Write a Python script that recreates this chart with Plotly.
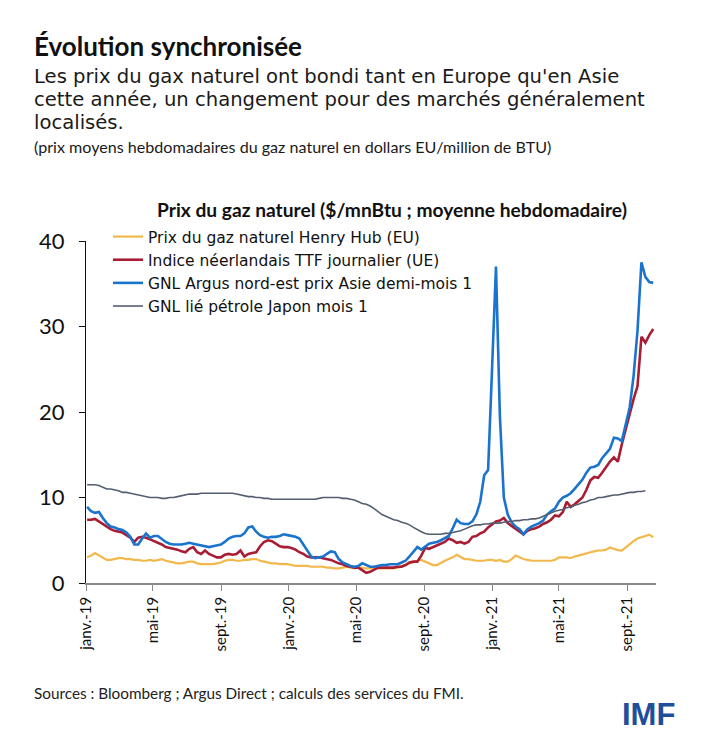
import pandas as pd
import plotly.graph_objects as go

# ---------------- data (weekly averages, $/mnBtu) ----------------
start_date = "2019-01-03"
end_date = "2021-10-18"
n_weeks = 145

tick_dates = ["2019-01-01", "2019-05-01", "2019-09-01", "2020-01-01", "2020-05-01",
              "2020-09-01", "2021-01-01", "2021-05-01", "2021-09-01"]
tick_labels = ["janv.-19", "mai-19", "sept.-19", "janv.-20", "mai-20",
               "sept.-20", "janv.-21", "mai-21", "sept.-21"]

series_names = ["Prix du gaz naturel Henry Hub (EU)",
                "Indice néerlandais TTF journalier (UE)",
                "GNL Argus nord-est prix Asie demi-mois 1",
                "GNL lié pétrole Japon mois 1"]

henry_hub = [3.0, 3.2, 3.5, 3.2, 2.9, 2.7, 2.7, 2.8, 2.9, 2.9, 2.8, 2.8,
             2.7, 2.7, 2.6, 2.6, 2.7, 2.6, 2.7, 2.8, 2.6, 2.5, 2.4, 2.3,
             2.3, 2.4, 2.5, 2.5, 2.3, 2.2, 2.2, 2.2, 2.2, 2.3, 2.4, 2.6,
             2.7, 2.7, 2.6, 2.6, 2.7, 2.7, 2.8, 2.8, 2.6, 2.5, 2.4, 2.3,
             2.3, 2.2, 2.2, 2.2, 2.1, 2.0, 2.0, 2.0, 2.0, 1.9, 1.9, 1.9,
             1.9, 1.8, 1.8, 1.7, 1.7, 1.8, 1.9, 1.8, 1.7, 1.8, 1.8, 1.7,
             1.7, 1.7, 1.7, 1.7, 1.7, 1.7, 1.7, 1.8, 2.0, 2.1, 2.3, 2.4,
             2.6, 2.7, 2.5, 2.3, 2.1, 2.1, 2.4, 2.6, 2.8, 3.0, 3.3, 3.0,
             2.8, 2.8, 2.7, 2.6, 2.6, 2.6, 2.7, 2.7, 2.6, 2.7, 2.5, 2.5,
             2.8, 3.2, 3.0, 2.8, 2.7, 2.6, 2.6, 2.6, 2.6, 2.6, 2.6, 2.7,
             3.0, 3.0, 3.0, 2.9, 3.1, 3.2, 3.35, 3.5, 3.6, 3.7, 3.8, 3.8,
             3.9, 4.15, 4.0, 3.85, 3.8, 4.2, 4.6, 4.9, 5.2, 5.35, 5.5, 5.65, 5.35]

ttf = [7.4, 7.4, 7.5, 7.2, 6.8, 6.5, 6.3, 6.1, 6.0, 5.9, 5.6, 5.3,
       4.8, 5.3, 5.4, 5.3, 5.1, 4.9, 4.7, 4.5, 4.2, 4.1, 4.0, 3.9,
       3.7, 3.6, 4.0, 4.2, 3.6, 3.4, 3.8, 3.4, 3.2, 3.0, 3.0, 3.3,
       3.4, 3.3, 3.4, 3.8, 3.1, 3.4, 3.5, 3.6, 4.3, 4.8, 5.0, 4.9,
       4.6, 4.3, 4.2, 4.2, 4.1, 3.9, 3.6, 3.4, 3.1, 3.0, 3.0, 3.0,
       2.9, 2.8, 2.7, 2.5, 2.3, 2.2, 2.0, 1.9, 1.8, 1.8, 1.5, 1.2,
       1.3, 1.6, 1.8, 1.8, 1.8, 1.8, 1.8, 1.9, 1.9, 2.1, 2.4, 2.5,
       2.5, 3.2, 4.1, 4.0, 4.2, 4.4, 4.6, 4.8, 5.2, 5.0, 4.7, 4.8,
       4.6, 4.8, 5.4, 5.5, 5.8, 6.0, 6.5, 6.9, 7.2, 7.3, 7.6, 7.0,
       6.7, 6.4, 6.1, 5.7, 6.1, 6.3, 6.4, 6.6, 6.9, 7.1, 7.4, 7.9,
       7.8, 8.3, 9.5, 8.9, 9.2, 9.6, 10.0, 10.9, 12.0, 12.4, 12.3, 12.9,
       13.6, 14.2, 14.7, 14.2, 16.2, 18.0, 19.8, 21.5, 23.0, 28.8, 28.1, 29.0, 29.7]

argus_asia = [8.9, 8.4, 8.2, 8.3, 7.6, 7.0, 6.6, 6.5, 6.3, 6.2, 5.9, 5.4,
              4.5, 4.5, 5.2, 5.8, 5.3, 5.5, 5.5, 5.1, 4.8, 4.6, 4.5, 4.5,
              4.5, 4.6, 4.7, 4.6, 4.5, 4.4, 4.3, 4.2, 4.3, 4.4, 4.5, 4.8,
              5.2, 5.4, 5.5, 5.5, 5.8, 6.5, 6.6, 6.0, 5.6, 5.4, 5.3, 5.4,
              5.4, 5.5, 5.7, 5.6, 5.5, 5.4, 5.2, 4.5, 3.9, 3.1, 2.9, 3.0,
              3.1, 3.4, 3.7, 3.6, 2.8, 2.4, 2.2, 2.0, 1.9, 2.0, 2.3, 2.1,
              1.9, 1.9, 2.0, 2.1, 2.1, 2.2, 2.2, 2.2, 2.4, 2.6, 3.1, 3.7,
              4.2, 3.9, 4.3, 4.6, 4.7, 4.8, 5.0, 5.3, 5.5, 6.4, 7.4, 7.0,
              6.9, 6.9, 7.2, 8.0, 9.5, 12.6, 13.2, 25.0, 37.0, 19.5, 10.0, 8.0,
              7.1, 6.6, 6.3, 5.7, 6.3, 6.6, 6.8, 7.0, 7.3, 8.0, 8.4, 8.7,
              9.5, 10.0, 10.2, 10.5, 11.0, 11.5, 12.1, 12.9, 13.5, 13.6, 13.8, 14.6,
              15.2, 15.7, 17.0, 16.9, 16.6, 18.7, 20.5, 24.2, 29.5, 37.5, 35.8, 35.2, 35.1]

japan_oil = [11.5, 11.5, 11.5, 11.4, 11.2, 11.0, 11.0, 10.9, 10.8, 10.6, 10.6, 10.5,
             10.4, 10.3, 10.2, 10.1, 10.0, 10.0, 10.0, 9.9, 9.9, 10.0, 10.0, 10.1,
             10.2, 10.3, 10.4, 10.4, 10.4, 10.5, 10.5, 10.5, 10.5, 10.5, 10.5, 10.5,
             10.5, 10.5, 10.4, 10.3, 10.2, 10.1, 10.1, 10.0, 10.0, 9.9, 9.9, 9.8,
             9.8, 9.8, 9.8, 9.8, 9.8, 9.8, 9.8, 9.8, 9.8, 9.8, 9.8, 9.9,
             10.0, 10.0, 10.0, 10.0, 10.0, 9.9, 9.9, 9.8, 9.7, 9.5, 9.3, 9.2,
             9.0, 8.7, 8.3, 8.0, 7.8, 7.6, 7.4, 7.3, 7.1, 7.0, 6.8, 6.5,
             6.2, 6.0, 5.8, 5.7, 5.7, 5.7, 5.7, 5.8, 5.8, 5.9, 6.0, 6.1,
             6.3, 6.5, 6.7, 6.8, 6.8, 6.9, 6.9, 7.0, 7.0, 7.0, 7.1, 7.2,
             7.2, 7.3, 7.3, 7.4, 7.4, 7.5, 7.5, 7.6, 7.8, 8.0, 8.2, 8.4,
             8.5, 8.6, 8.8, 8.9, 9.1, 9.2, 9.4, 9.5, 9.7, 9.8, 10.0, 10.0,
             10.1, 10.2, 10.3, 10.3, 10.4, 10.5, 10.6, 10.6, 10.7, 10.7, 10.8]

# ---------------- figure ----------------
dates = pd.date_range(start_date, end_date, periods=n_weeks)

colors = ["#F2B84B", "#A81D33", "#1A74CD", "#535E70"]
widths = [2.2, 2.6, 2.6, 1.6]
all_series = [henry_hub, ttf, argus_asia, japan_oil]

# page body has an 8px default margin -> figure sits at (8, 8) in the window
OFF = 8
W, H = 700, 730
L, R, T, B = 78, 52, 233, 155
PW, PH = W - L - R, H - T - B


def xp(px):  # window pixel -> paper x
    return (px - OFF - L) / PW


def yp(py):  # window pixel -> paper y
    return (H - B - (py - OFF)) / PH


fig = go.Figure()
for name, vals, col, w in zip(series_names, all_series, colors, widths):
    fig.add_trace(go.Scatter(
        x=dates[:len(vals)], y=vals, mode="lines", name=name,
        line=dict(color=col, width=w), hoverinfo="skip"))

fig.update_layout(
    width=W, height=H,
    margin=dict(l=L, r=R, t=T, b=B, pad=0),
    paper_bgcolor="white", plot_bgcolor="white",
    font=dict(family="Lato, sans-serif", color="#111111"),
    showlegend=True,
    legend=dict(x=xp(108), y=yp(220), xanchor="left", yanchor="top",
                bgcolor="rgba(0,0,0,0)",
                font=dict(size=15.5, color="#111111", family="DejaVu Sans, sans-serif"),
                itemwidth=30, tracegroupgap=0),
    xaxis=dict(type="date", range=["2019-01-01", "2021-10-23"],
               tickmode="array", tickvals=tick_dates, ticktext=tick_labels,
               tickangle=-90, ticks="outside", ticklen=6, tickcolor="#8a8a8a",
               tickwidth=1.3, showline=True, linecolor="#8a8a8a", linewidth=1.5,
               showgrid=False, zeroline=False,
               tickfont=dict(size=15, color="#111111")),
    yaxis=dict(range=[0, 40], tickmode="array", tickvals=[0, 10, 20, 30, 40],
               ticks="outside", ticklen=6, tickcolor="#111111", tickwidth=1,
               showline=True, linecolor="#111111", linewidth=1,
               showgrid=False, zeroline=False, ticklabelstandoff=10,
               tickfont=dict(size=22, color="#111111")),
)

sub_font = dict(size=19.6, color="#1a1a1a", family="DejaVu Sans, sans-serif")
annotations = [
    dict(text="<b>Évolution synchronisée</b>", x=xp(32), y=yp(46),
         font=dict(size=26, color="#111111"), xanchor="left"),
    dict(text="Les prix du gax naturel ont bondi tant en Europe qu'en Asie",
         x=xp(32), y=yp(76), font=sub_font, xanchor="left"),
    dict(text="cette année, un changement pour des marchés généralement",
         x=xp(32), y=yp(99.5), font=sub_font, xanchor="left"),
    dict(text="localisés.", x=xp(32), y=yp(123), font=sub_font, xanchor="left"),
    dict(text="(prix moyens hebdomadaires du gaz naturel en dollars EU/million de BTU)",
         x=xp(32), y=yp(146), font=dict(size=16.1, color="#1a1a1a"), xanchor="left"),
    dict(text="<b>Prix du gaz naturel ($/mnBtu ; moyenne hebdomadaire)</b>",
         x=xp(392), y=yp(209), font=dict(size=19.2, color="#111111"), xanchor="center"),
    dict(text="Sources : Bloomberg ; Argus Direct ; calculs des services du FMI.",
         x=xp(32), y=yp(693), font=dict(size=15.3, color="#222222"), xanchor="left"),
    dict(text="<b>IMF</b>", x=xp(677), y=yp(714),
         font=dict(size=31, color="#1F4E9B", family="Liberation Sans, Arial, sans-serif"),
         xanchor="right"),
]
for a in annotations:
    a.update(xref="paper", yref="paper", yanchor="middle", showarrow=False)
fig.update_layout(annotations=annotations)

fig.write_html("out.html")
